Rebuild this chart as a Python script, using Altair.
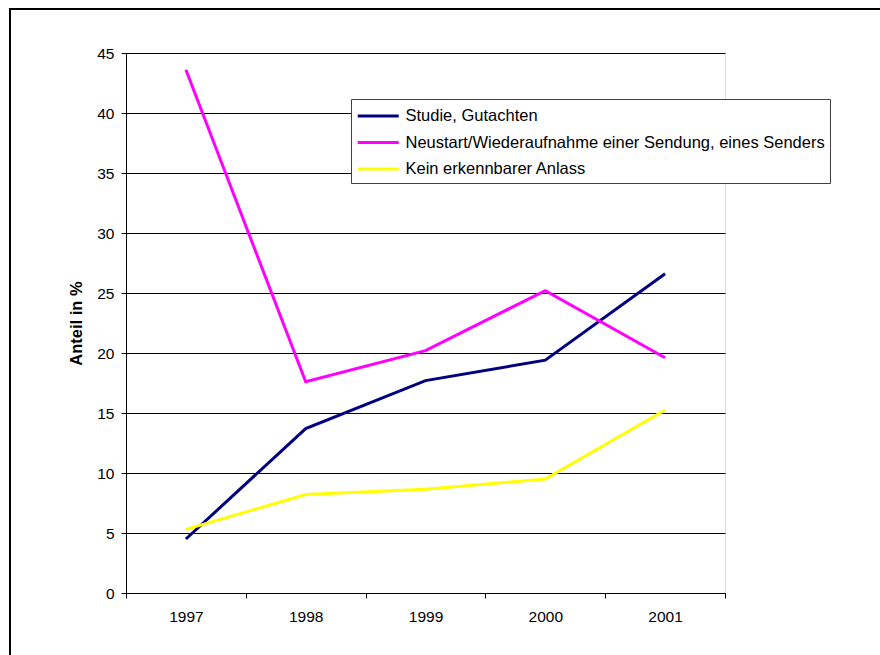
import altair as alt
import pandas as pd

years = ["1997", "1998", "1999", "2000", "2001"]
series = [
    "Studie, Gutachten",
    "Neustart/Wiederaufnahme einer Sendung, eines Senders",
    "Kein erkennbarer Anlass",
]
studie = [4.5, 13.7, 17.7, 19.4, 26.6]
neustart = [43.6, 17.6, 20.2, 25.2, 19.6]
kein = [5.3, 8.2, 8.65, 9.5, 15.25]
colors = ["#000080", "#FF00FF", "#FFFF00"]
y_ticks = [0, 5, 10, 15, 20, 25, 30, 35, 40, 45]

rows = []
for name, vals in zip(series, [studie, neustart, kein]):
    for yr, v in zip(years, vals):
        rows.append({"Jahr": yr, "Serie": name, "Wert": v})
df = pd.DataFrame(rows)

FONT = "Liberation Sans"

lines = alt.Chart(df).mark_line(strokeWidth=3, strokeCap="butt", strokeJoin="miter").encode(
    x=alt.X(
        "Jahr:O",
        sort=years,
        scale=alt.Scale(type="band", paddingInner=0, paddingOuter=0),
        axis=alt.Axis(
            title=None,
            labelAngle=0,
            tickBand="extent",
            tickSize=5,
            tickColor="black",
            domainColor="black",
            labelColor="black",
            labelFont=FONT,
            labelFontSize=15.5,
            labelPadding=11,
            grid=False,
        ),
    ),
    y=alt.Y(
        "Wert:Q",
        scale=alt.Scale(domain=[0, 45], nice=False),
        axis=alt.Axis(
            title="Anteil in %",
            values=y_ticks,
            tickSize=5,
            tickColor="black",
            domainColor="black",
            gridColor="black",
            gridOpacity=1,
            labelColor="black",
            labelFont=FONT,
            labelFontSize=15.5,
            labelPadding=7,
            titleFont=FONT,
            titleFontSize=16.5,
            titleFontWeight="bold",
            titleColor="black",
            titlePadding=12,
        ),
    ),
    color=alt.Color(
        "Serie:N",
        sort=series,
        scale=alt.Scale(domain=series, range=colors),
        legend=alt.Legend(
            title=None,
            orient="none",
            legendX=225,
            legendY=46,
            fillColor="white",
            strokeColor="#404040",
            padding=5,
            symbolType="M-1,0H3",
            symbolSize=420,
            symbolStrokeWidth=3,
            labelFont=FONT,
            labelFontSize=16.5,
            labelColor="black",
            labelOffset=25.5,
            labelLimit=600,
            rowPadding=5.5,
        ),
    ),
    order=alt.Order("Serie:N"),
)

frame = alt.Chart(pd.DataFrame({"f": [0]})).mark_rect(
    filled=False, stroke="black", strokeWidth=2
).encode(
    x=alt.value(-116), y=alt.value(-44), x2=alt.value(900), y2=alt.value(700)
)

chart = alt.layer(frame, lines).properties(
    width=599,
    height=540,
    autosize=alt.AutoSizeParams(type="none"),
    padding={"left": 126, "top": 53, "right": 155, "bottom": 62},
).configure_view(stroke=None).configure(background="white")

chart.save("out.html", embed_options={"renderer": "svg", "actions": False})
